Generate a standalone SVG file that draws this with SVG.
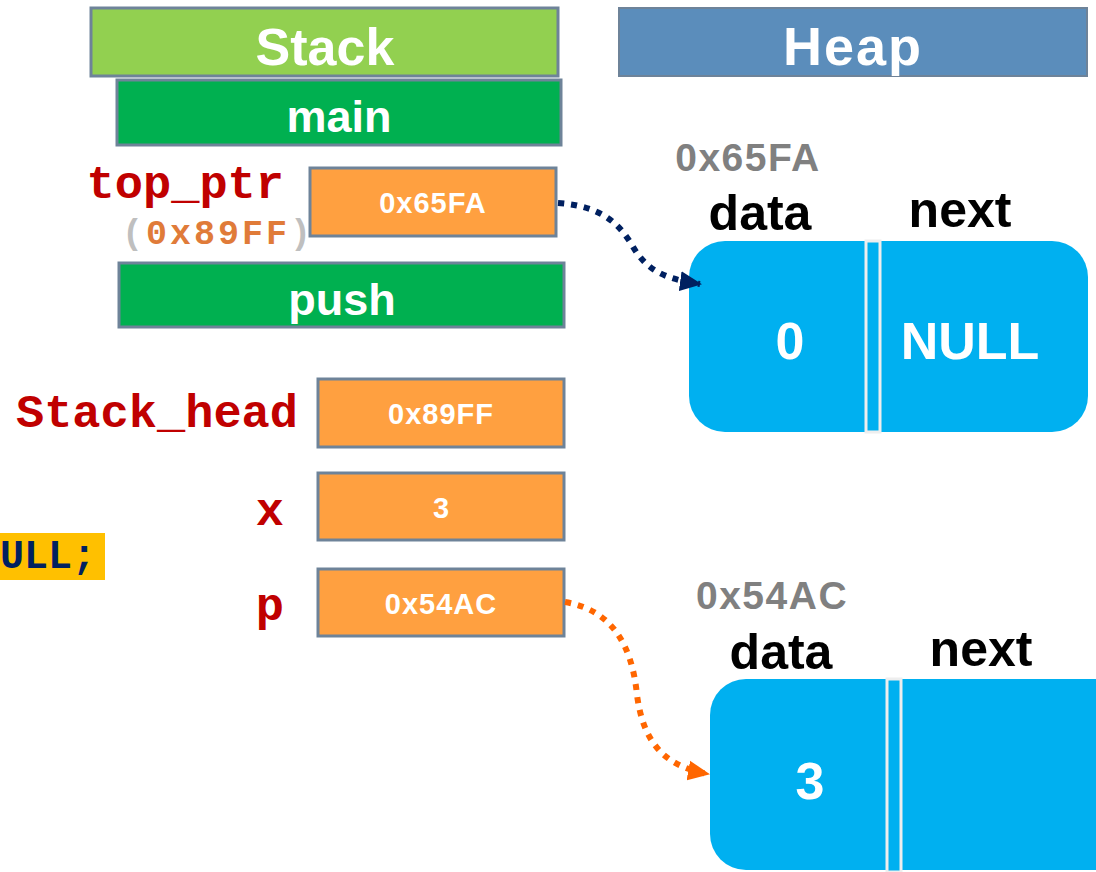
<svg xmlns="http://www.w3.org/2000/svg" width="1096" height="872" viewBox="0 0 1096 872">
<style>
.hdr{stroke:#6E8399;stroke-width:3}
.frame{fill:#00B050;stroke:#6E8399;stroke-width:3}
.cell{fill:#FFA040;stroke:#6E8399;stroke-width:3}
.ht{font-family:"Liberation Sans",Arial,sans-serif;font-weight:bold;fill:#fff;text-anchor:middle}
.ct{font-family:"Liberation Sans",Arial,sans-serif;font-weight:bold;fill:#fff;text-anchor:middle;font-size:29px}
.code{font-family:"Liberation Mono","Courier New",monospace;font-weight:bold}
.lbl{font-family:"Liberation Sans",Arial,sans-serif;font-weight:bold}
.node{fill:#00B0F0}
</style>
<defs>
<marker id="mNavy" markerWidth="22" markerHeight="22" refX="20" refY="11" orient="auto" markerUnits="userSpaceOnUse" viewBox="0 0 22 22"><path d="M0,1 L22,11 L0,21 z" fill="#002060"/></marker>
<marker id="mOrange" markerWidth="22" markerHeight="22" refX="20" refY="11" orient="auto" markerUnits="userSpaceOnUse" viewBox="0 0 22 22"><path d="M0,1 L22,11 L0,21 z" fill="#FF6600"/></marker>
</defs>
<rect width="1096" height="872" fill="#fff"/>
<g id="stack-header">
<rect class="hdr" x="91" y="8" width="467" height="68" fill="#92D050"/>
<text class="ht" x="325" y="65" font-size="52">Stack</text>
</g>
<g id="heap-header">
<rect x="619" y="8" width="468" height="68" fill="#5B8DBB" stroke="#6E8399" stroke-width="2"/>
<text class="ht" x="853" y="65" font-size="54" letter-spacing="2">Heap</text>
</g>
<g id="main-frame">
<rect class="frame" x="117" y="80" width="444" height="65"/>
<text class="ht" x="339" y="132" font-size="45">main</text>
</g>
<g id="top_ptr">
<text class="code" x="284" y="198" font-size="47" fill="#C00000" text-anchor="end">top_ptr</text>
<text class="code" x="314" y="244" font-size="35" letter-spacing="3" text-anchor="end"><tspan fill="#BFBFBF">(</tspan><tspan fill="#E07B39">0x89FF</tspan><tspan fill="#BFBFBF">)</tspan></text>
<rect class="cell" x="310" y="168" width="246" height="68"/>
<text class="ct" x="433" y="213" letter-spacing="1">0x65FA</text>
</g>
<g id="push-frame">
<rect class="frame" x="119" y="263" width="445" height="64"/>
<text class="ht" x="342" y="315" font-size="45">push</text>
</g>
<g id="stack_head">
<text class="code" x="298" y="427" font-size="47" fill="#C00000" text-anchor="end">Stack_head</text>
<rect class="cell" x="318" y="379" width="246" height="68"/>
<text class="ct" x="441" y="424" letter-spacing="1">0x89FF</text>
</g>
<g id="x">
<text class="code" x="284" y="525" font-size="47" fill="#C00000" text-anchor="end">x</text>
<rect class="cell" x="318" y="473" width="246" height="67"/>
<text class="ct" x="441" y="518">3</text>
</g>
<g id="p">
<text class="code" x="284" y="620" font-size="47" fill="#C00000" text-anchor="end">p</text>
<rect class="cell" x="318" y="569" width="246" height="67"/>
<text class="ct" x="441" y="614" letter-spacing="1">0x54AC</text>
</g>
<g id="code-snippet">
<rect x="0" y="533" width="105" height="47" fill="#FFC000"/>
<text class="code" x="0" y="568" font-size="40" fill="#002060">ULL;</text>
</g>
<g id="node1">
<text class="lbl" x="748" y="171" font-size="39" fill="#808080" text-anchor="middle" letter-spacing="1.5">0x65FA</text>
<text class="lbl" x="760" y="230" font-size="50" fill="#000" text-anchor="middle">data</text>
<text class="lbl" x="960" y="227" font-size="50" fill="#000" text-anchor="middle">next</text>
<rect class="node" x="689" y="241" width="399" height="191" rx="36"/>
<rect x="866" y="241" width="14" height="191" fill="#00B0F0" stroke="#EEEEEE" stroke-width="3"/>
<text class="lbl" x="790" y="359" font-size="52" fill="#fff" text-anchor="middle">0</text>
<text class="lbl" x="970" y="359" font-size="52" fill="#fff" text-anchor="middle">NULL</text>
</g>
<g id="node2">
<text class="lbl" x="772" y="609" font-size="39" fill="#808080" text-anchor="middle" letter-spacing="1.5">0x54AC</text>
<text class="lbl" x="781" y="669" font-size="50" fill="#000" text-anchor="middle">data</text>
<text class="lbl" x="981" y="666" font-size="50" fill="#000" text-anchor="middle">next</text>
<rect class="node" x="710" y="679" width="430" height="191" rx="36"/>
<rect x="887" y="679" width="14" height="193" fill="#00B0F0" stroke="#EEEEEE" stroke-width="3"/>
<text class="lbl" x="810" y="799" font-size="52" fill="#fff" text-anchor="middle">3</text>
</g>
<g id="connectors" fill="none" stroke-width="6" stroke-dasharray="6,7">
<path d="M558,203 C600,206 618,222 632,245 C646,270 664,279 700,284" stroke="#002060" marker-end="url(#mNavy)"/>
<path d="M565,602 C612,610 632,645 637,695 C643,740 662,766 708,774" stroke="#FF6600" marker-end="url(#mOrange)"/>
</g>
</svg>
